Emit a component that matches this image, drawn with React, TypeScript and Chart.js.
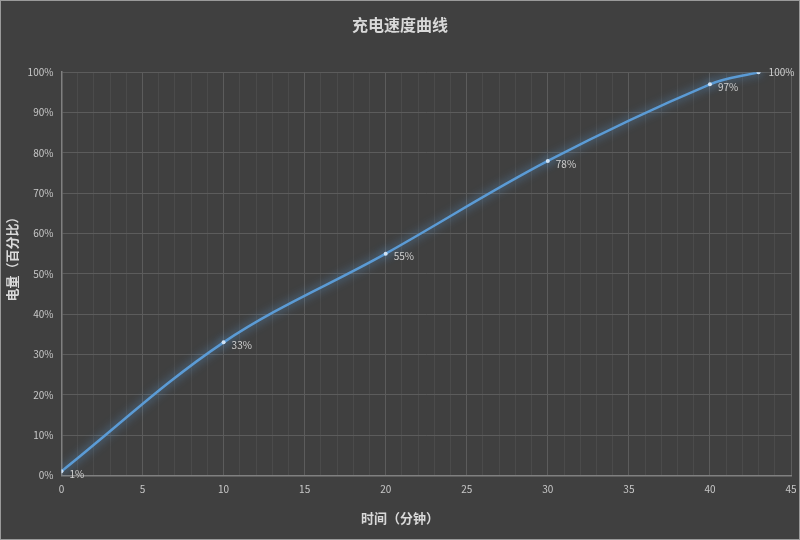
import { useEffect, useRef } from "react";
import { Chart, registerables } from "chart.js";

Chart.register(...registerables);

const times = [0, 10, 20, 30, 40, 43];
const levels = [1, 33, 55, 78, 97, 100];
const pointLabels = ["1%", "33%", "55%", "78%", "97%", "100%"];

const chartTitle = "充电速度曲线";
const xTitle = "时间（分钟）";
const yTitle = "电量（百分比）";

const cjk = '"Noto Sans CJK SC", "Noto Sans", sans-serif';
const titleFont = "bold 13px " + cjk;

// soft blue glow under the line, like the Excel effect
const glowPlugin = {
  id: "glow",
  beforeDatasetDraw(chart: any) {
    const ctx = chart.ctx;
    ctx.save();
    ctx.shadowColor = "rgba(91, 155, 213, 0.9)";
    ctx.shadowBlur = 10;
  },
  afterDatasetDraw(chart: any) {
    chart.ctx.restore();
  },
};

// value labels to the right of each point
const labelPlugin = {
  id: "pointLabels",
  afterDatasetsDraw(chart: any) {
    const ctx = chart.ctx;
    const meta = chart.getDatasetMeta(0);
    ctx.save();
    ctx.font = "10px " + cjk;
    ctx.fillStyle = "#d0d0d0";
    ctx.textAlign = "left";
    ctx.textBaseline = "middle";
    meta.data.forEach((pt: any, i: number) => {
      const last = i === meta.data.length - 1;
      ctx.fillText(pointLabels[i], pt.x + (last ? 10 : 8), pt.y + (last ? 0 : 3));
    });
    ctx.restore();
  },
};

// axis titles: Excel centres them on the whole chart, not on the plot area
const axisTitlePlugin = {
  id: "axisTitles",
  afterDraw(chart: any) {
    const ctx = chart.ctx;
    const xs = chart.scales.x;
    const ys = chart.scales.y;
    ctx.save();
    ctx.font = titleFont;
    ctx.fillStyle = "#d9d9d9";
    ctx.textAlign = "center";
    ctx.textBaseline = "middle";
    ctx.fillText(xTitle, chart.width / 2, xs.bottom - 8);
    ctx.translate(ys.left + 8, chart.height / 2 - 14);
    ctx.rotate(-Math.PI / 2);
    ctx.fillText(yTitle, 0, 0);
    ctx.restore();
  },
};

export default function App() {
  const chartRef = useRef<HTMLCanvasElement>(null);

  useEffect(() => {
    let myChart: Chart | null = null;
    document.body.style.margin = "0";

    if (chartRef.current) {
      myChart = new Chart(chartRef.current, {
        type: "line",
        data: {
          datasets: [
            {
              data: times.map((t, i) => ({ x: t, y: levels[i] })),
              borderColor: "#5b9bd5",
              borderWidth: 2.5,
              tension: 0.35,
              pointRadius: 2,
              pointBackgroundColor: "#cfe2f5",
              pointBorderWidth: 0,
              fill: false,
            },
          ],
        },
        options: {
          animation: false,
          responsive: false,
          maintainAspectRatio: false,
          layout: { padding: { left: 3, right: 3, top: 0, bottom: 13 } },
          plugins: {
            legend: { display: false },
            tooltip: { enabled: false },
            title: {
              display: true,
              text: chartTitle,
              color: "#d9d9d9",
              font: { family: cjk, size: 16, weight: "bold" },
              padding: { top: 14, bottom: 38 },
            },
          },
          scales: {
            x: {
              type: "linear",
              min: 0,
              max: 45,
              afterFit: (scale: any) => {
                scale.paddingRight = 8;
              },
              ticks: {
                stepSize: 1,
                autoSkip: false,
                maxRotation: 0,
                color: "#c8c8c8",
                font: { family: cjk, size: 10 },
                padding: 8,
                callback: (v: any) => (Number(v) % 5 === 0 ? String(v) : ""),
              },
              grid: {
                drawTicks: false,
                color: (c: any) =>
                  c.tick && c.tick.value % 5 === 0 ? "#5c5c5c" : "#4b4b4b",
              },
              border: { color: "#808080", width: 1.5 },
              title: {
                display: true,
                text: xTitle,
                color: "rgba(0,0,0,0)",
                font: { family: cjk, size: 13, weight: "bold" },
                padding: { top: 7, bottom: 0 },
              },
            },
            y: {
              min: 0,
              max: 100,
              ticks: {
                stepSize: 10,
                color: "#c8c8c8",
                font: { family: cjk, size: 10 },
                padding: 8,
                callback: (v: any) => v + "%",
              },
              grid: { drawTicks: false, color: "#5c5c5c" },
              border: { color: "#808080", width: 1.5 },
              title: {
                display: true,
                text: yTitle,
                color: "rgba(0,0,0,0)",
                font: { family: cjk, size: 13, weight: "bold" },
                padding: { top: 0, bottom: 0 },
              },
            },
          },
        },
        plugins: [glowPlugin, labelPlugin, axisTitlePlugin],
      });
    }

    return () => {
      if (myChart) {
        myChart.destroy();
      }
    };
  }, []);

  return (
    <div
      style={{
        width: 800,
        height: 540,
        boxSizing: "border-box",
        border: "1px solid #9a9a9a",
        background: "#404040",
      }}
    >
      <canvas ref={chartRef} width={798} height={538} style={{ display: "block" }} />
    </div>
  );
}
